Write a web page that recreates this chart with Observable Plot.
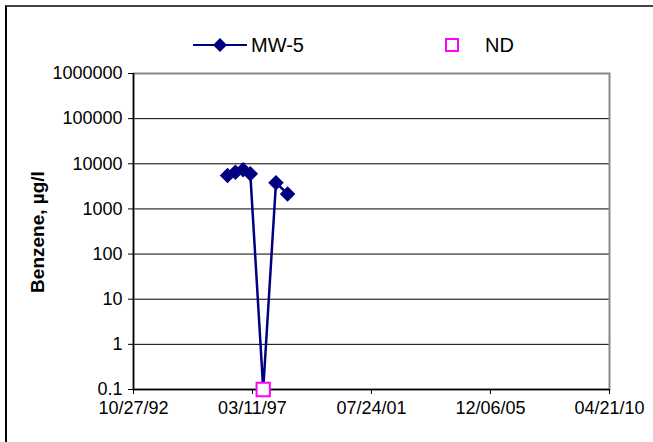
<!DOCTYPE html>
<html>
<head>
<meta charset="utf-8">
<script src="https://cdn.jsdelivr.net/npm/d3@7"></script>
<script src="https://cdn.jsdelivr.net/npm/@observablehq/plot@0.6"></script>
<style>
  html, body { margin: 0; padding: 0; background: #fff; overflow: hidden; }
  #wrap { position: relative; width: 653px; height: 442px; overflow: hidden; font-family: "Liberation Sans", Arial, sans-serif; }
  #border { position: absolute; left: 5px; top: 5px; width: 800px; height: 600px; border-left: 2px solid #000; border-top: 2px solid #444; }
  #chart { position: absolute; left: 0; top: 0; }
  #legend { position: absolute; left: 0; top: 0; width: 653px; height: 70px; pointer-events: none; }
  .lt { position: absolute; font-size: 20px; color: #000; line-height: 20px; }
  #ylabel { position: absolute; left: 37px; top: 232px; transform: translate(-50%, -50%) rotate(-90deg); font-size: 19px; font-weight: bold; white-space: nowrap; line-height: 1; }
</style>
</head>
<body>
<div id="wrap">
  <div id="border"></div>
  <div id="chart"></div>
  <div id="legend">
    <svg width="653" height="70" style="position:absolute;left:0;top:0">
      <line x1="193" y1="45" x2="247" y2="45" stroke="#000080" stroke-width="2"/>
      <path d="M220,38 L227,45 L220,52 L213,45 Z" fill="#000080"/>
      <rect x="446" y="39" width="12" height="12" fill="#fff" stroke="#FF00FF" stroke-width="2"/>
    </svg>
    <div class="lt" style="left:251px; top:35px">MW-5</div>
    <div class="lt" style="left:485px; top:35px">ND</div>
  </div>
  <div id="ylabel">Benzene, µg/l</div>
</div>
<script>
// Sampling dates and benzene concentrations (µg/l) for MW-5
const sampleDates = ["1996-04-10", "1996-07-25", "1996-11-05", "1997-02-10", "1997-08-02", "1998-01-20", "1998-06-25"];
const mw5Values = [5500, 6500, 7400, 6000, 0.1, 3800, 2150];
// Non-detect samples (plotted at 0.1)
const ndDates = ["1997-08-02"];
const ndValues = [0.1];
// Axis ticks
const xTickDates = ["1992-10-27", "1997-03-11", "2001-07-24", "2005-12-06", "2010-04-21"];
const yTickValues = [0.1, 1, 10, 100, 1000, 10000, 100000, 1000000];
const ndLevel = 0.1;

const mw5 = sampleDates.map((d, i) => ({date: new Date(d), value: mw5Values[i]}));
const nd = ndDates.map((d, i) => ({date: new Date(d), value: ndValues[i]}));
const xTicks = xTickDates.map(d => new Date(d));
const fmt = d3.utcFormat("%m/%d/%y");

const chart = Plot.plot({
  width: 653,
  height: 442,
  marginLeft: 133,
  marginRight: 44,
  marginTop: 73,
  marginBottom: 53,
  style: {fontFamily: "'Liberation Sans', Arial, sans-serif", fontSize: "18px", color: "#000", background: "transparent", overflow: "visible"},
  x: {type: "utc", domain: [xTicks[0], xTicks[xTicks.length - 1]]},
  y: {type: "log", domain: [yTickValues[0], yTickValues[yTickValues.length - 1]]},
  marks: [
    Plot.ruleY(yTickValues.slice(1, -1), {stroke: "#000", strokeWidth: 1}),
    Plot.frame({stroke: "#888", strokeWidth: 2}),
    Plot.ruleX([xTicks[0]], {stroke: "#000", strokeWidth: 1.5}),
    Plot.ruleY([yTickValues[0]], {stroke: "#000", strokeWidth: 1.5}),
    Plot.axisX({ticks: xTicks, tickFormat: fmt, tickSize: 5, tickPadding: 7, label: null, fontSize: 18}),
    Plot.axisY({ticks: yTickValues, tickFormat: d => d < 1 ? String(d) : d3.format("d")(d), tickSize: 5, tickPadding: 6, label: null, fontSize: 18}),
    Plot.line(mw5, {x: "date", y: "value", stroke: "#000080", strokeWidth: 2.5}),
    Plot.dot(mw5.filter(d => d.value > ndLevel), {x: "date", y: "value", symbol: "diamond2", r: 7, fill: "#000080", stroke: "none"}),
    Plot.dot(nd, {x: "date", y: "value", symbol: "square", r: 7.5, fill: "#fff", stroke: "#FF00FF", strokeWidth: 2})
  ]
});
document.getElementById("chart").appendChild(chart);
</script>
</body>
</html>
